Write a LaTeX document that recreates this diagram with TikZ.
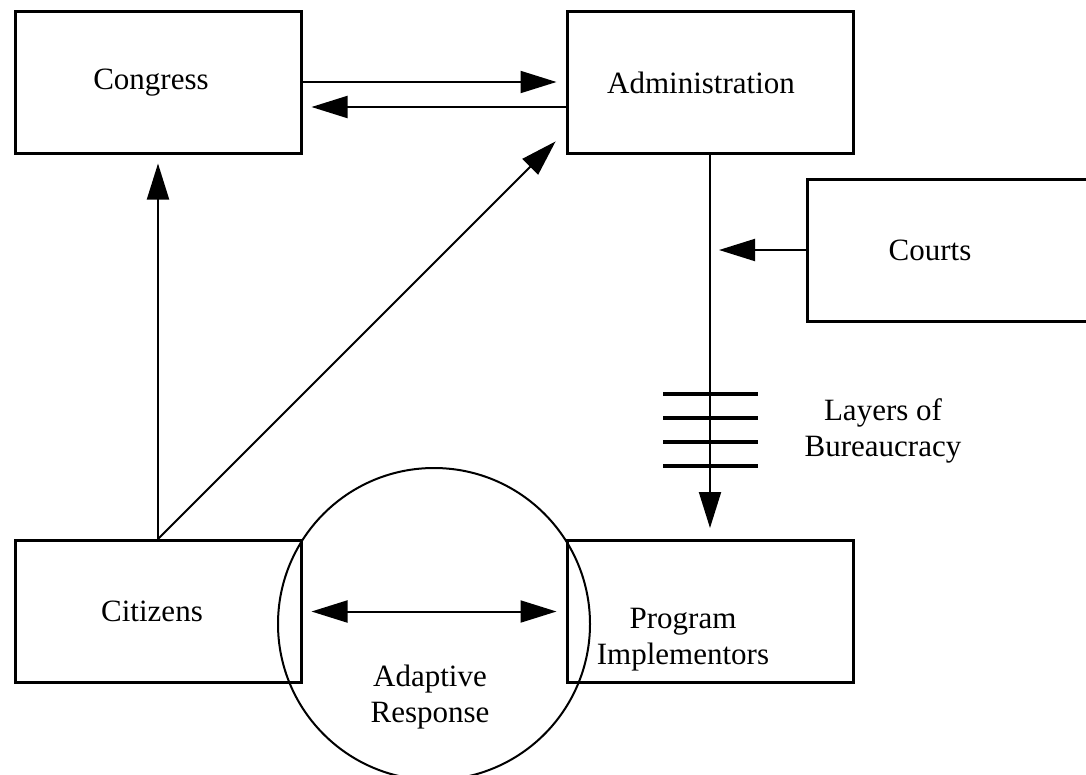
\documentclass[tikz,border=0pt]{standalone}
\usepackage{fontspec}
\setmainfont{Liberation Serif}
\usetikzlibrary{arrows.meta}
\begin{document}
\begin{tikzpicture}[x=1pt,y=-1pt,
  every node/.style={font=\fontsize{31}{36}\selectfont},
  box/.style={draw, line width=3pt, minimum width=286pt, minimum height=142pt, inner sep=0pt},
  conn/.style={line width=2pt, -{Triangle[length=36pt,width=22pt]}},
  twoway/.style={line width=2pt, {Triangle[length=36pt,width=22pt]}-{Triangle[length=36pt,width=22pt]}},
  layer/.style={line width=4.5pt},
  ring/.style={draw, circle, line width=2pt, minimum size=312pt, inner sep=0pt}]
  \useasboundingbox (0,0) rectangle (1086,774);
  \begin{scope}
  \clip (0,0) rectangle (1086,774);

  % boxes, each with its caption set a little left of centre
  \node[box, label={[name=cong-t, xshift=-7pt, yshift=-1pt]center:Congress}] (cong) at (158,82) {};
  \node[box, label={[name=adm-t, xshift=-9pt, yshift=-1pt]center:Administration}] (adm) at (710,82) {};
  \node[box, label={[name=courts-t, xshift=-20pt]center:Courts}] (courts) at (950,250) {};
  \node[box, label={[name=cit-t, xshift=-6pt]center:Citizens}] (cit) at (158,611.5) {};
  \node[box, label={[name=pi-t, align=center, xshift=-27pt, yshift=-28pt]center:Program\\Implementors}] (pi) at (710,611.5) {};

  % adaptive response circle
  \node[ring] (adapt) at (434,624) {};
  \node[align=center] (adaptlbl) at (430,697) {Adaptive\\Response};

  % helper points
  \coordinate (admin-in) at ([yshift=23pt]adm.south west);
  \coordinate (stem) at (courts.west -| adm.south);

  % connectors
  \draw[conn, shorten >=9pt] (cong.east) -- (adm.west);
  \draw[conn, shorten >=9pt] ([yshift=-25pt]adm.west) -- ([yshift=-25pt]cong.east);
  \draw[conn, shorten >=9pt] (cit.north) -- (cong.south);
  \draw[conn, shorten >=14pt] (cit.north) -- (admin-in);
  \draw[conn, shorten >=11pt] (adm.south) -- (pi.north);
  \draw[conn, shorten >=9pt] (courts.west) -- (stem);
  \draw[twoway, shorten <=9pt, shorten >=9pt] (cit.east) -- (pi.west);

  % layers of bureaucracy
  \foreach \y in {394,418,442,466}
    \draw[layer] (663,\y) -- (758,\y);
  \node[align=center] (layerslbl) at (883,431) {Layers of\\Bureaucracy};
  \end{scope}
\end{tikzpicture}
\end{document}
